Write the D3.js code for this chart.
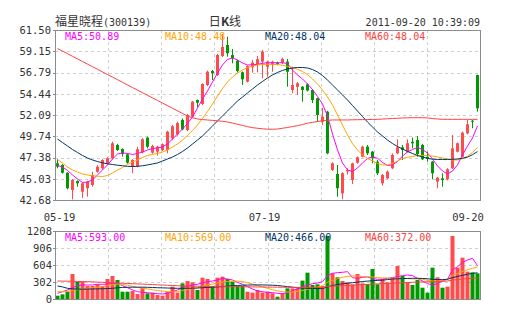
<!DOCTYPE html>
<html><head><meta charset="utf-8">
<script src="https://cdn.jsdelivr.net/npm/d3@7/dist/d3.min.js"></script>
<style>html,body{margin:0;padding:0;background:#fff;}svg{display:block;}</style>
</head><body>
<script>
// ---------- data ----------
const dateLabels = ["05-19", "07-19", "09-20"];
const dateIdx = [0, 41, 84];
const priceTicks = [42.68, 45.03, 47.38, 49.74, 52.09, 54.44, 56.79, 59.15, 61.50];
const volTicks = [0, 302, 604, 906, 1208];

const open = [46.74,46.56,45.70,43.79,44.79,43.60,43.98,44.34,45.81,46.19,
46.74,47.30,48.77,48.33,47.74,46.37,46.40,47.95,49.58,47.92,
48.03,48.22,48.22,49.50,49.95,51.54,50.43,51.90,53.75,53.31,
55.41,56.96,56.52,58.62,59.84,58.73,58.10,56.82,55.78,57.37,
57.63,58.00,57.44,57.63,57.88,57.88,58.00,54.86,55.20,55.22,
55.49,54.86,53.94,51.35,52.46,46.00,45.56,43.42,45.84,44.90,
46.81,47.47,48.58,48.03,46.92,44.53,45.08,46.19,47.85,48.51,
48.03,49.13,49.32,48.77,47.47,46.92,44.71,45.08,44.97,46.19,
48.03,47.47,50.06,51.46,56.52];
const high = [47.20,46.65,45.75,45.00,44.85,44.60,44.80,45.81,46.55,47.20,
47.41,49.13,48.90,48.40,47.80,47.20,48.58,49.54,49.70,48.80,
48.70,48.95,50.35,51.00,51.35,51.70,52.20,53.65,53.80,55.60,
57.00,57.07,58.85,61.06,60.76,59.40,58.20,56.90,57.60,58.18,
58.62,59.29,58.10,58.10,58.00,58.45,58.30,57.44,55.75,55.30,
55.60,54.95,54.00,52.87,52.55,46.85,46.56,45.75,46.20,46.81,
47.50,48.70,48.77,48.10,47.11,45.55,45.95,47.85,49.40,48.77,
49.40,49.60,49.77,48.90,48.03,47.00,45.25,45.64,46.20,49.88,
49.05,50.25,51.54,51.54,56.55];
const low = [46.19,45.60,43.85,42.75,44.15,42.90,43.05,44.15,45.70,46.00,
46.60,47.20,48.10,47.47,46.70,45.64,46.30,47.85,48.40,47.80,
47.60,48.10,47.85,49.30,49.80,50.40,50.30,51.80,52.98,53.20,
55.30,55.96,56.40,58.50,58.54,57.81,56.80,55.41,55.70,56.78,
56.80,56.15,56.33,56.88,57.60,57.75,55.22,54.49,54.30,53.56,
54.70,53.42,51.35,50.98,47.75,45.90,43.05,42.76,45.50,44.45,
46.70,47.40,47.66,46.74,45.45,44.28,45.00,46.10,47.75,47.11,
47.95,48.40,47.47,47.10,46.92,44.97,43.98,44.15,44.85,46.10,
47.95,47.40,49.95,50.62,52.46];
const close = [46.37,45.70,43.98,44.90,44.53,44.53,44.71,45.45,46.37,47.11,
47.30,48.96,48.22,47.77,46.81,47.11,48.30,49.40,48.58,48.66,
48.58,48.85,50.24,50.85,51.20,50.50,52.09,53.56,53.45,55.52,
56.88,56.74,58.73,59.62,58.92,58.40,56.95,56.04,57.50,57.88,
58.26,59.10,57.99,57.99,57.75,58.30,56.88,55.41,55.60,54.86,
54.80,53.75,52.09,51.90,47.85,46.74,43.98,45.64,46.00,46.74,
47.41,48.58,47.85,47.30,45.64,45.45,45.81,47.66,48.51,48.22,
48.96,48.96,47.77,47.19,47.25,45.64,45.15,44.90,46.08,48.40,
48.96,50.13,51.06,51.35,52.83];

const ma5 = [46.50,46.33,45.95,45.45,45.01,44.62,44.67,44.90,45.45,46.00,
46.56,47.22,47.77,47.88,47.83,47.72,47.83,47.99,48.22,48.38,
48.44,48.55,48.88,49.43,49.99,50.54,51.15,51.87,52.87,53.86,
54.75,55.74,56.74,57.63,58.24,58.40,58.18,57.85,57.63,57.65,
57.70,57.81,57.88,57.88,57.88,57.87,57.79,57.07,56.52,56.08,
55.52,54.91,54.14,53.31,51.98,49.99,48.22,46.78,46.00,45.84,
46.22,46.78,47.28,47.44,47.30,46.83,46.50,46.56,46.94,47.55,
47.99,48.27,48.49,48.27,47.88,47.22,46.45,45.89,45.56,45.89,
46.56,47.66,48.66,49.54,50.89];
const ma10 = [47.16,46.78,46.33,46.00,45.78,45.56,45.45,45.36,45.32,45.28,
45.39,45.67,46.00,46.28,46.61,46.89,47.11,47.39,47.61,47.72,
47.83,47.99,48.22,48.55,48.88,49.32,49.82,50.37,50.98,51.70,
52.48,53.31,54.19,55.02,55.74,56.30,56.74,57.07,57.35,57.51,
57.63,57.68,57.70,57.70,57.68,57.59,57.48,57.35,57.15,56.91,
56.57,56.08,55.52,54.86,54.08,53.20,52.09,50.98,49.88,48.93,
48.22,47.66,47.28,47.00,46.72,46.56,46.56,46.72,47.00,47.28,
47.41,47.50,47.61,47.61,47.61,47.55,47.44,47.33,47.22,47.11,
47.11,47.24,47.55,47.94,48.48];
const ma20 = [49.43,49.04,48.66,48.27,47.94,47.61,47.33,47.11,46.94,46.80,
46.69,46.61,46.53,46.47,46.41,46.39,46.41,46.47,46.56,46.67,
46.78,47.00,47.22,47.44,47.72,48.05,48.44,48.88,49.32,49.77,
50.32,50.87,51.43,51.98,52.53,53.09,53.64,54.08,54.53,54.97,
55.41,55.80,56.19,56.52,56.80,57.02,57.18,57.29,57.35,57.35,
57.29,57.13,56.85,56.46,55.96,55.41,54.86,54.31,53.75,53.14,
52.53,51.92,51.31,50.76,50.21,49.77,49.32,48.93,48.60,48.33,
48.05,47.83,47.61,47.44,47.28,47.20,47.17,47.17,47.17,47.19,
47.22,47.30,47.42,47.70,48.04];
const ma60 = [59.45,59.16,58.88,58.59,58.30,58.01,57.72,57.44,57.15,56.86,
56.57,56.29,56.00,55.71,55.42,55.13,54.85,54.56,54.27,53.98,
53.70,53.41,53.12,52.83,52.55,52.26,51.98,51.78,51.65,51.58,
51.54,51.49,51.45,51.39,51.32,51.20,51.06,50.93,50.80,50.69,
50.62,50.56,50.52,50.51,50.54,50.62,50.71,50.81,50.91,51.04,
51.18,51.28,51.37,51.45,51.50,51.54,51.54,51.54,51.54,51.56,
51.57,51.58,51.59,51.60,51.61,51.64,51.67,51.70,51.73,51.76,
51.78,51.79,51.79,51.79,51.76,51.70,51.65,51.61,51.61,51.61,
51.61,51.61,51.61,51.61,51.61];

const volume = [59,83,130,444,308,308,231,231,261,231,
355,409,338,130,130,142,89,201,101,113,
71,59,130,219,113,278,320,296,160,379,
355,231,379,397,355,308,231,231,130,113,
160,113,130,101,41,101,189,189,189,326,
468,249,261,231,1119,456,385,320,296,261,
444,278,261,533,261,355,296,379,586,409,
296,249,338,201,113,557,385,201,219,1119,
557,734,486,474,456];
const vma5 = [101,130,160,201,237,249,249,249,261,261,
266,278,278,237,201,160,130,118,113,101,
95,89,101,130,160,201,231,249,261,290,
308,320,338,367,355,338,296,261,219,178,
142,130,118,113,101,95,113,148,178,219,
249,272,284,308,415,456,468,474,486,379,
367,385,391,367,349,355,367,379,397,415,
426,415,367,320,272,249,272,320,355,515,
574,651,693,722,593];
const vma10 = [130,128,135,150,165,180,190,200,210,220,
240,255,262,258,245,225,205,190,180,165,
150,140,130,128,130,150,170,185,200,225,
250,265,285,300,310,315,318,310,290,265,
240,215,190,165,145,130,125,125,135,150,
170,195,215,235,300,330,360,385,400,410,
405,400,395,390,380,375,372,370,368,365,
362,358,355,350,330,320,315,330,350,420,
450,490,520,545,569];
const vma20 = [231,215,190,180,175,175,175,178,180,182,
185,190,200,205,208,210,210,210,208,205,
200,198,195,192,190,190,190,192,195,200,
205,210,215,220,228,235,240,245,248,250,
250,250,248,245,240,230,220,210,200,195,
190,188,185,185,215,240,258,270,280,290,
300,310,318,325,330,335,345,355,360,362,
365,368,368,365,360,350,345,345,350,380,
400,420,440,455,466];
const vma60 = [320,318,316,315,312,310,308,305,300,296,
292,288,284,280,276,272,268,264,260,256,
252,248,244,240,236,232,230,228,226,224,
222,220,219,218,218,218,218,217,216,215,
214,213,212,211,210,209,208,207,206,205,
205,205,206,207,222,228,232,236,240,245,
250,255,260,264,268,272,276,280,284,288,
292,296,300,303,305,307,310,315,320,335,
345,355,362,368,372];

const maNames = ["MA5", "MA10", "MA20", "MA60"];
const maLegend = ["50.89", "48.48", "48.04", "48.04"];
const volLegend = ["593.00", "569.00", "466.00", "372.00"];
const maColors = ["#ff00ff", "#ffa500", "#003366", "#ff4040"];

// ---------- chart ----------
const W = 505, H = 330;
const L = 55, R = 480, T = 30, B = 200, VT = 231, VB = 299;
const UP = "#ff4b4b", DOWN = "#009900";
const MONO = "'DejaVu Sans Mono', monospace";
const TEXT = "#333";
const FS = 10;

const n = close.length;
const svg = d3.select("body").append("svg").attr("width", W).attr("height", H);

const x = d3.scaleBand().domain(d3.range(n)).range([L, R]);
const y = d3.scaleLinear().domain([priceTicks[0], priceTicks[priceTicks.length - 1]]).range([B, T]);
const yv = d3.scaleLinear().domain([volTicks[0], volTicks[volTicks.length - 1]]).range([VB, VT]);
const gx = d3.scaleLinear().domain([0, 8]).range([L, R]);
const cx = i => x(i) + 2.5;

// grids
function grid(top, bottom, ys) {
  const g = svg.append("g").attr("stroke", "#cfcfcf").attr("stroke-dasharray", "3,3").attr("stroke-width", 1);
  d3.range(1, 8).forEach(k => {
    const xx = Math.round(gx(k)) + 0.5;
    g.append("line").attr("x1", xx).attr("x2", xx).attr("y1", top).attr("y2", bottom);
  });
  ys.forEach(yy => {
    const v = Math.round(yy) + 0.5;
    g.append("line").attr("x1", L).attr("x2", R).attr("y1", v).attr("y2", v);
  });
}
grid(T, B, priceTicks.slice(1, -1).map(y));
grid(VT, VB, volTicks.slice(1, -1).map(yv));

const maSeries = [ma5, ma10, ma20, ma60];
svg.append("clipPath").attr("id", "cm").append("rect").attr("x", L).attr("y", T).attr("width", R - L).attr("height", B - T);
const gMain = svg.append("g").attr("clip-path", "url(#cm)");

// candles
const idx = d3.range(n);
gMain.selectAll("line.wick").data(idx).join("line")
  .attr("x1", i => cx(i)).attr("x2", i => cx(i))
  .attr("y1", i => y(high[i])).attr("y2", i => y(low[i]))
  .attr("stroke", i => close[i] >= open[i] ? UP : DOWN).attr("stroke-width", 1);
gMain.selectAll("rect.body").data(idx).join("rect")
  .attr("x", i => x(i) + 1).attr("width", 3)
  .attr("y", i => y(Math.max(open[i], close[i])))
  .attr("height", i => Math.max(1, Math.abs(y(open[i]) - y(close[i]))))
  .attr("fill", i => close[i] >= open[i] ? UP : DOWN);

maSeries.forEach((s, k) => {
  gMain.append("path").datum(s)
    .attr("d", d3.line().x((d, i) => cx(i)).y(d => y(d)))
    .attr("fill", "none").attr("stroke", maColors[k]).attr("stroke-width", 1);
});

// volume
const gVol = svg.append("g");
gVol.selectAll("rect").data(idx).join("rect")
  .attr("x", i => x(i) + 0.5).attr("width", 4)
  .attr("y", i => yv(volume[i])).attr("height", i => VB - yv(volume[i]))
  .attr("fill", i => close[i] >= open[i] ? UP : DOWN);
[vma5, vma10, vma20, vma60].forEach((s, k) => {
  gVol.append("path").datum(s)
    .attr("d", d3.line().x((d, i) => cx(i)).y(d => yv(d)))
    .attr("fill", "none").attr("stroke", maColors[k]).attr("stroke-width", 1);
});

// frames
[[T, B], [VT, VB]].forEach(([t, b]) => {
  svg.append("rect").attr("x", L + 0.5).attr("y", t + 0.5).attr("width", R - L).attr("height", b - t)
    .attr("fill", "none").attr("stroke", "#8c8c8c");
});

// y axis labels + ticks
function yLabels(ticks, sc, xr, fmt) {
  const g = svg.append("g");
  ticks.forEach(t => {
    const yy = Math.round(sc(t)) + 0.5;
    g.append("line").attr("x1", L - 2).attr("x2", L).attr("y1", yy).attr("y2", yy).attr("stroke", "#8c8c8c");
    g.append("text").attr("x", xr).attr("y", sc(t)).attr("dy", "0.36em")
      .attr("text-anchor", "end").attr("font-family", MONO).attr("font-size", FS + 0.5).attr("fill", TEXT)
      .text(fmt(t));
  });
}
yLabels(priceTicks, y, 51, d3.format(".2f"));
yLabels(volTicks, yv, 52, d3.format("d"));

// x labels
dateLabels.forEach((lab, k) => {
  let xx = cx(dateIdx[k]) + 2;
  const half = 15;
  if (xx + half > 483) xx = 483 - half;
  svg.append("text").attr("x", xx).attr("y", 221).attr("text-anchor", "middle")
    .attr("font-family", MONO).attr("font-size", FS + 0.5).attr("fill", TEXT).text(lab);
});

// legends
const legX = [65, 165, 265, 365];
maNames.forEach((nm, k) => {
  svg.append("text").attr("x", legX[k]).attr("y", 40).attr("font-family", MONO).attr("font-size", FS)
    .attr("fill", maColors[k]).text(nm + ":" + maLegend[k]);
  svg.append("text").attr("x", legX[k]).attr("y", 241).attr("font-family", MONO).attr("font-size", FS)
    .attr("fill", maColors[k]).text(nm + ":" + volLegend[k]);
});

// title
const t1 = svg.append("text").attr("x", 55).attr("y", 26).attr("fill", TEXT);
t1.append("tspan").attr("font-family", "'Noto Sans CJK SC', sans-serif").attr("font-size", 12).text("福星晓程");
t1.append("tspan").attr("font-family", MONO).attr("font-size", FS).text("(300139)");
const t2 = svg.append("text").attr("x", 225).attr("y", 26).attr("text-anchor", "middle").attr("fill", TEXT)
  .attr("font-family", "'Noto Sans CJK SC', sans-serif").attr("font-size", 12);
t2.append("tspan").text("日");
t2.append("tspan").attr("font-weight", "bold").text("K");
t2.append("tspan").text("线");
svg.append("text").attr("x", 480).attr("y", 26).attr("text-anchor", "end").attr("fill", TEXT)
  .attr("font-family", MONO).attr("font-size", FS).text("2011-09-20 10:39:09");
</script>
</body></html>
